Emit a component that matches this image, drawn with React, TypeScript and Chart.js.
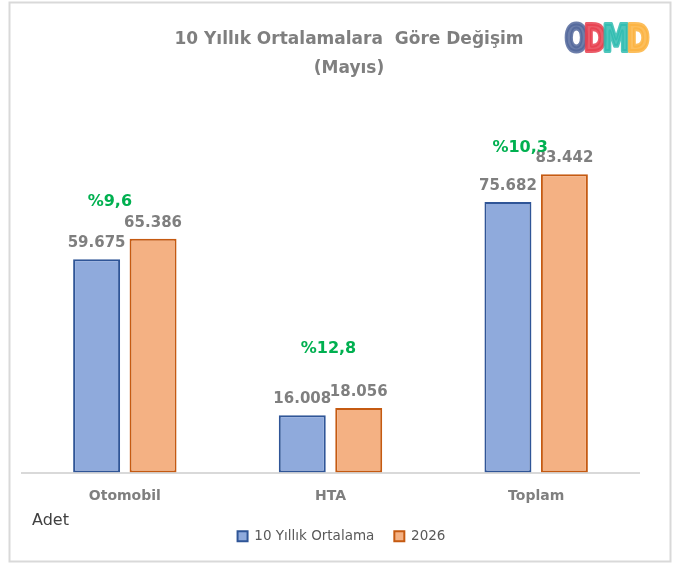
import { useEffect, useRef } from 'react';
import { Chart, registerables } from 'chart.js';

Chart.register(...registerables);

// ---- data ----
const categories = ['Otomobil', 'HTA', 'Toplam'];
const seriesNames = ['10 Yıllık Ortalama', '2026'];
const avg10Values = [59675, 16008, 75682];
const y2026Values = [65386, 18056, 83442];
const titleLines = ['10 Yıllık Ortalamalara  Göre Değişim', '(Mayıs)'];
const unitLabel = 'Adet';
const logoLetters = ['O', 'D', 'M', 'D'];

// ---- style ----
const FONT = 'DejaVu Sans';
const GRAY = '#7f7f7f';
const GREEN = '#00b050';
const changeLabelOffsets = [
  { dx: -15, dy: 37 },
  { dx: -2, dy: 59 },
  { dx: -16, dy: 26 },
];
const logoStyle = [
  { color: '#52679b', cx: 576.5 },
  { color: '#e8404f', cx: 595 },
  { color: '#2fbcb0', cx: 616 },
  { color: '#fbb33f', cx: 638 },
];

const fmt = (v: number) => String(v).replace(/\B(?=(\d{3})+(?!\d))/g, '.');
const pct = (a: number, b: number) => '%' + ((b / a - 1) * 100).toFixed(1).replace('.', ',');

const decor = {
  id: 'decor',
  beforeDraw(chart: any) {
    const ctx = chart.ctx;
    ctx.save();
    ctx.fillStyle = '#ffffff';
    ctx.fillRect(0, 0, chart.width, chart.height);
    ctx.strokeStyle = '#d9d9d9';
    ctx.lineWidth = 2;
    ctx.strokeRect(9.5, 2.5, 661, 559);
    ctx.restore();
  },
  afterDatasetsDraw(chart: any) {
    const ctx = chart.ctx;
    ctx.save();
    ctx.fillStyle = GRAY;
    ctx.font = `bold 15px "${FONT}"`;
    ctx.textAlign = 'center';
    ctx.textBaseline = 'alphabetic';
    chart.data.datasets.forEach((ds: any, di: number) => {
      const meta = chart.getDatasetMeta(di);
      meta.data.forEach((el: any, i: number) => {
        ctx.fillText(fmt(ds.data[i]), el.x, el.y - 12);
      });
    });
    const m0 = chart.getDatasetMeta(0);
    const m1 = chart.getDatasetMeta(1);
    ctx.fillStyle = GREEN;
    ctx.font = `bold 16px "${FONT}"`;
    ctx.textBaseline = 'middle';
    categories.forEach((_, i) => {
      const e0 = m0.data[i];
      const e1 = m1.data[i];
      const off = changeLabelOffsets[i];
      const x = (e0.x + e1.x) / 2 + off.dx;
      const y = Math.min(e0.y, e1.y) - off.dy;
      ctx.fillText(pct(avg10Values[i], y2026Values[i]), x, y);
    });
    ctx.restore();
  },
  afterDraw(chart: any) {
    const ctx = chart.ctx;
    ctx.save();
    ctx.fillStyle = GRAY;
    ctx.font = `bold 17px "${FONT}"`;
    ctx.textAlign = 'center';
    ctx.textBaseline = 'middle';
    ctx.fillText(titleLines[0], 349, 40);
    ctx.fillText(titleLines[1], 349, 69);
    ctx.fillStyle = '#404040';
    ctx.font = `16px "${FONT}"`;
    ctx.textAlign = 'left';
    ctx.fillText(unitLabel, 32, 521);
    ctx.font = `bold 38px "${FONT}"`;
    ctx.textAlign = 'center';
    ctx.textBaseline = 'alphabetic';
    ctx.lineJoin = 'round';
    ctx.globalAlpha = 0.85;
    logoLetters.forEach((ch, i) => {
      const s = logoStyle[i];
      ctx.save();
      ctx.translate(s.cx, 51);
      ctx.scale(0.72, 1);
      ctx.fillStyle = s.color;
      ctx.strokeStyle = s.color;
      ctx.lineWidth = 4;
      ctx.strokeText(ch, 0, 0);
      ctx.fillText(ch, 0, 0);
      ctx.restore();
    });
    ctx.restore();
  },
};

export default function App() {
  const ref = useRef<HTMLCanvasElement | null>(null);
  useEffect(() => {
    if (!ref.current) return;
    const chart = new Chart(ref.current, {
      type: 'bar',
      data: {
        labels: categories,
        datasets: [
          {
            label: seriesNames[0],
            data: avg10Values,
            backgroundColor: '#8faadc',
            borderColor: '#2f5597',
            borderWidth: 2,
            borderSkipped: false,
            categoryPercentage: 0.549,
            barPercentage: 0.832,
          },
          {
            label: seriesNames[1],
            data: y2026Values,
            backgroundColor: '#f4b183',
            borderColor: '#c55a11',
            borderWidth: 2,
            borderSkipped: false,
            categoryPercentage: 0.549,
            barPercentage: 0.832,
          },
        ],
      },
      options: {
        responsive: false,
        animation: false,
        layout: { padding: { left: 10, right: 0, top: 115, bottom: 10 } },
        scales: {
          x: {
            grid: { display: false, drawTicks: false },
            border: { display: true, color: '#d9d9d9', width: 2 },
            ticks: {
              color: GRAY,
              font: { family: FONT, size: 14, weight: 'bold' },
              padding: 15,
            },
            afterFit: (s: any) => {
              s.height = 37;
            },
          },
          y: {
            min: 0,
            max: 100000,
            grid: { display: false },
            border: { display: false },
            ticks: { display: false },
            afterFit: (s: any) => {
              s.width = 12;
            },
          },
          y2: {
            position: 'right',
            min: 0,
            max: 100000,
            grid: { display: false },
            border: { display: false },
            ticks: { display: false },
            afterFit: (s: any) => {
              s.width = 34;
            },
          },
        },
        plugins: {
          title: { display: false },
          tooltip: { enabled: false },
          legend: {
            position: 'bottom',
            labels: {
              color: '#595959',
              font: { family: FONT, size: 13.5 },
              boxWidth: 10,
              boxHeight: 10,
              padding: 20,
            },
          },
        },
      },
      plugins: [decor],
    } as any);
    return () => chart.destroy();
  }, []);
  return (
    <div style={{ position: 'absolute', left: 0, top: 0, width: 673, height: 563 }}>
      <canvas ref={ref} width={673} height={563} />
    </div>
  );
}
